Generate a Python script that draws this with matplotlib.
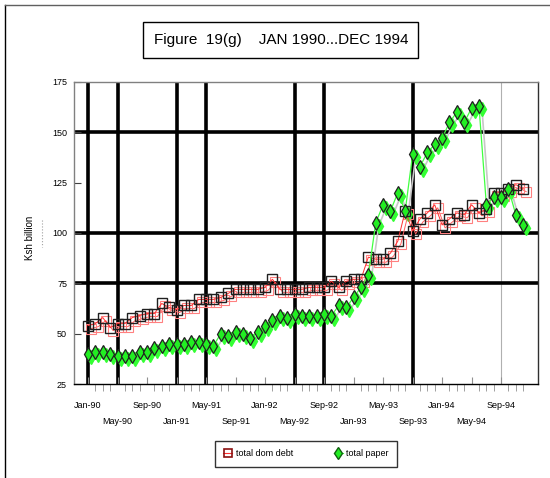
import matplotlib
matplotlib.use("Agg")
import matplotlib.pyplot as plt
import matplotlib.transforms as mtransforms
from matplotlib.lines import Line2D
from matplotlib.patches import Rectangle

plt.rcParams['font.family'] = ['Liberation Sans Narrow', 'Liberation Sans', 'DejaVu Sans']

# monthly data, Jan 1990 .. Dec 1994 (Ksh billion)
months = list(range(60))
dom_debt = [54, 55, 58, 53, 55, 55, 58, 59, 60, 60, 65, 63,
            62, 64, 64, 67, 67, 67, 68, 70, 72, 72, 72, 72,
            73, 77, 72, 72, 72, 72, 73, 73, 73, 76, 73, 76,
            77, 77, 88, 87, 87, 90, 96, 111, 101, 107, 110, 114,
            104, 107, 110, 109, 114, 110, 112, 120, 120, 122, 124, 122]
paper = [40, 41, 41, 40, 39, 39, 39, 41, 41, 43, 44, 45,
         45, 45, 46, 46, 45, 44, 50, 49, 51, 50, 48, 51,
         54, 57, 59, 58, 60, 59, 59, 59, 60, 59, 64, 63,
         68, 73, 79, 105, 114, 111, 120, 111, 139, 133, 140, 144,
         147, 155, 160, 155, 162, 163, 114, 118, 118, 122, 109, 104]

tick_pos = list(range(0, 60, 4))
tick_labels = ['Jan-90', 'May-90', 'Sep-90', 'Jan-91', 'May-91', 'Sep-91',
               'Jan-92', 'May-92', 'Sep-92', 'Jan-93', 'May-93', 'Sep-93',
               'Jan-94', 'May-94', 'Sep-94']
vlines_thick = [0, 4, 12, 16, 28, 32, 44]
vline_thin = 56
hlines = [75, 100, 150]

fig = plt.figure(figsize=(5.5, 4.78), dpi=100)
ax = fig.add_axes([74/550, 1-384/478, (538-74)/550, (384-82)/478])

for v in vlines_thick:
    ax.axvline(v, color='black', lw=2.6, zorder=1)
ax.axvline(vline_thin, color='#b0b0b0', lw=0.8, zorder=1)
for h in hlines:
    ax.axhline(h, color='black', lw=2.6, zorder=1)

# drop shadows
shadow = mtransforms.offset_copy(ax.transData, fig=fig, x=3, y=-3, units='dots')
ax.plot(months, dom_debt, color='#ff6060', lw=0.7, marker='s', ms=7,
        mfc='none', mec='#ff8080', mew=0.8, transform=shadow, zorder=2)
ax.plot(months, paper, color='#c8c8c8', lw=1.2, marker='d', ms=7.5,
        mfc='#33ff33', mec='#33ff33', transform=shadow, zorder=2)

ax.plot(months, dom_debt, color='#ff3030', lw=0.7, marker='s', ms=7,
        mfc='none', mec='#202020', mew=1.0, zorder=3)
ax.plot(months, paper, color='#40ff40', lw=0.9, marker='d', ms=7.5,
        mfc='#22ee22', mec='#202020', mew=0.9, zorder=4)

ax.set_xlim(-1.9, 61)
ax.set_ylim(25, 175)
ax.set_yticks(range(25, 176, 25))
ax.set_xticks(tick_pos)
ax.set_xticklabels(tick_labels)
ax.set_xticks(months, minor=True)
ax.tick_params(axis='both', labelsize=6.5, direction='in', length=5)
ax.tick_params(axis='x', which='both', color='#909090', length=5, pad=12)
ax.tick_params(axis='y', color='#404040', pad=5)
for t in ax.xaxis.get_major_ticks()[1::2]:
    t.set_pad(24)

ax.spines['left'].set_color('#808080')
ax.spines['top'].set_color('#808080')
ax.spines['right'].set_color('#303030')
ax.spines['bottom'].set_color('black')
for s in ax.spines.values():
    s.set_linewidth(1.0)

fig.text(30/550, 1-238/478, 'Ksh billion', rotation=90, fontsize=7,
         ha='center', va='center')
fig.add_artist(Line2D([42/550, 42/550], [1-220/478, 1-247/478], color='#a0a0a0',
                      lw=0.8, ls=':'))

# title box
fig.add_artist(Rectangle((143/550, 1-58/478), (418-143)/550, 36/478,
                         transform=fig.transFigure, fc='white', ec='black', lw=1.0))
fig.text(281/550, 1-40/478, 'Figure  19(g)    JAN 1990...DEC 1994', fontsize=11,
         ha='center', va='center')

# outer frame
fig.add_artist(Line2D([5/550, 5/550], [0, 1-5/478], color='black', lw=1.0))
fig.add_artist(Line2D([5/550, 1], [1-5/478, 1-5/478], color='#606060', lw=1.0))

handles = [Line2D([], [], color='#ff3030', lw=0.8, marker='s', ms=6, mfc='none',
                  mec='#8b1010', mew=1.2),
           Line2D([], [], color='#40ff40', lw=0.8, marker='d', ms=6.5, mfc='#22ee22',
                  mec='#106010')]
leg = fig.legend(handles, ['total dom debt', 'total paper'], loc='center',
                 bbox_to_anchor=(306/550, 1-454/478), ncol=2, fontsize=6.5,
                 frameon=True, fancybox=False, edgecolor='black', handlelength=1.0,
                 handletextpad=0.4, columnspacing=4.5, borderpad=0.9)
leg.get_frame().set_linewidth(1.0)

fig.savefig('out.png', dpi=100)
